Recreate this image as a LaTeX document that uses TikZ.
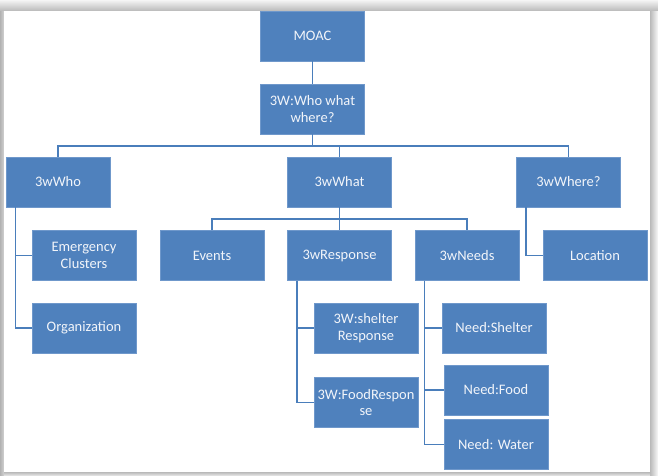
\documentclass[tikz,border=0pt]{standalone}
\usepackage{fontspec}
\setmainfont{Carlito}
\definecolor{boxblue}{HTML}{4F81BD}
\definecolor{boxedge}{HTML}{6F98CB}
\definecolor{linkblue}{HTML}{4A7EBB}
\definecolor{boxtext}{HTML}{F2F5FA}
\begin{document}
\begin{tikzpicture}[x=1pt,y=-1pt,
  box/.style={rectangle, fill=boxblue, draw=boxedge, line width=0.6pt,
    minimum width=104pt, minimum height=50pt, inner sep=1pt,
    text=boxtext, align=center, font=\fontsize{14.5}{16.5}\selectfont},
  link/.style={draw=linkblue, line width=1.5pt}]
\useasboundingbox (0,0) rectangle (658,475);
\fill[white] (0,0) rectangle (658,475);
% page shadow strips
\shade[top color=gray!8, bottom color=gray!55] (0,0) rectangle (658,11);
\shade[left color=gray!60, right color=gray!35] (0,11) rectangle (4,475);
\shade[left color=gray!55, right color=gray!5] (650,11) rectangle (658,475);
\shade[top color=gray!55, bottom color=gray!25] (4,472) rectangle (650,475);
\fill[white] (4,11) rectangle (650,472);

\node[box] (moac) at (312.5,36) {MOAC};
\node[box] (w3) at (312.5,109) {3W:Who what\\where?};
\node[box] (who) at (58,182) {3wWho};
\node[box] (what) at (339.5,182) {3wWhat};
\node[box] (where) at (568.5,182) {3wWhere?};
\node[box] (emerg) at (84,255.5) {Emergency\\Clusters};
\node[box] (org) at (84,328) {Organization};
\node[box] (events) at (212,255.5) {Events};
\node[box] (resp) at (339.5,255.5) {3wResponse};
\node[box] (needs) at (467,255.5) {3wNeeds};
\node[box] (loc) at (595,255.5) {Location};
\node[box] (sresp) at (366,328) {3W:shelter\\Response};
\node[box] (fresp) at (366,402.5) {3W:FoodRespon\\se};
\node[box] (nshel) at (494,328) {Need:Shelter};
\node[box] (nfood) at (496,390) {Need:Food};
\node[box] (nwat) at (496,444.5) {Need: Water};

\coordinate (bus1) at (312.5,146);
\coordinate (bus2) at (339.5,219);

\path[link] (moac.south) -- (w3.south |- w3.north);
\path[link] (w3.south) -- (bus1);
\path[link] (who.north) -- (who.north |- bus1) -| (where.north);
\path[link] (what.north) -- (what.north |- bus1);
\path[link] (what.south) -- (bus2);
\path[link] (events.north) -- (events.north |- bus2) -| (needs.north);
\path[link] (resp.north) -- (resp.north |- bus2);

\path[link] ([xshift=10pt]who.south west) |- (emerg.west);
\path[link] ([xshift=10pt]who.south west) |- (org.west);
\path[link] ([xshift=10pt]where.south west) |- (loc.west);
\path[link] ([xshift=10pt]resp.south west) |- (sresp.west);
\path[link] ([xshift=10pt]resp.south west) |- (fresp.west);
\path[link] ([xshift=10pt]needs.south west) |- (nshel.west);
\path[link] ([xshift=10pt]needs.south west) |- (nfood.west);
\path[link] ([xshift=10pt]needs.south west) |- (nwat.west);
\end{tikzpicture}
\end{document}
